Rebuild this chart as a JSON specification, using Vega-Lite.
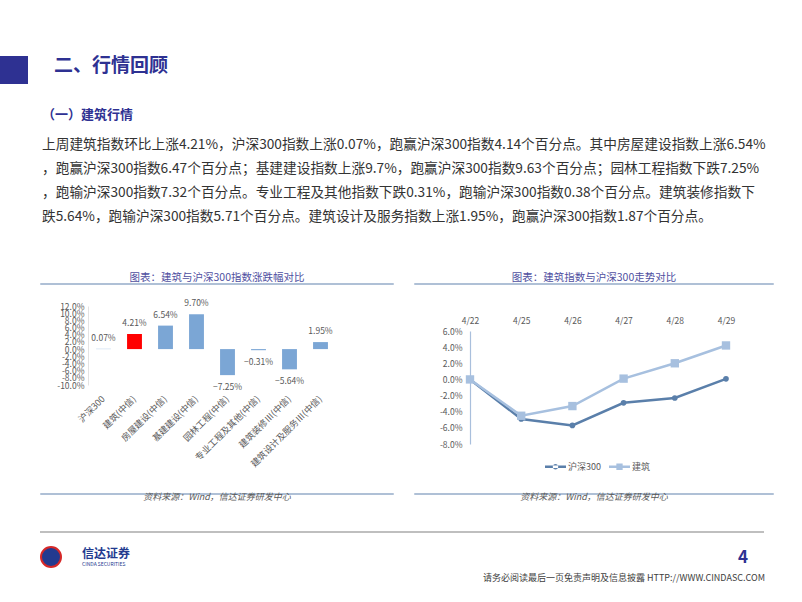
{
  "$schema": "https://vega.github.io/schema/vega-lite/v6.json",
  "padding": {"left": 0, "top": 50, "right": 0, "bottom": 0},
  "background": "white",
  "config": {
    "view": {"stroke": null},
    "font": "Noto Sans CJK SC",
    "axis": {"labelFont": "Noto Sans CJK SC", "labelOverlap": false},
    "legend": {"labelFont": "Noto Sans CJK SC", "layout": {"bottom": {"anchor": "middle"}}}
  },
  "spacing": 0,
  "resolve": {"scale": {"color": "independent"}, "legend": {"color": "independent"}},
  "vconcat": [
    {
      "spacing": 26,
      "hconcat": [
        {
          "width": 28, "height": 28,
          "view": {"fill": "#2E3192", "stroke": null},
          "data": {"values": [{}]},
          "mark": {"type": "text", "text": ""}
        },
        {
          "width": 700, "height": 0.01,
          "data": {"values": [{}]},
          "mark": {"type": "text", "text": ""},
          "title": {"text": "二、行情回顾", "orient": "bottom", "anchor": "start", "baseline": "top", "offset": -4, "fontSize": 19, "fontWeight": "bold", "color": "#2E3192"}
        }
      ]
    },
    {
      "width": 1, "height": 25, "data": {"values": [{}]}, "mark": {"type": "text", "text": ""}
    },
    {
      "width": 760, "height": 0.01,
      "data": {"values": [{}]},
      "mark": {"type": "text", "text": ""},
      "title": {
        "text": "\u00a0（一）建筑行情",
        "subtitle": [
          "上周建筑指数环比上涨4.21%，沪深300指数上涨0.07%，跑赢沪深300指数4.14个百分点。其中房屋建设指数上涨6.54%",
          "，跑赢沪深300指数6.47个百分点；基建建设指数上涨9.7%，跑赢沪深300指数9.63个百分点；园林工程指数下跌7.25%",
          "，跑输沪深300指数7.32个百分点。专业工程及其他指数下跌0.31%，跑输沪深300指数0.38个百分点。建筑装修指数下",
          "跌5.64%，跑输沪深300指数5.71个百分点。建筑设计及服务指数上涨1.95%，跑赢沪深300指数1.87个百分点。"
        ],
        "anchor": "start", "dx": 42, "offset": 0, "baseline": "top",
        "fontSize": 13, "fontWeight": "bold", "color": "#2E3192",
        "subtitleFontSize": 13.7, "subtitleColor": "#333333", "subtitleLineHeight": 24, "subtitlePadding": 16
      }
    },
    {
      "width": 1, "height": 35, "data": {"values": [{}]}, "mark": {"type": "text", "text": ""}
    },
    {
      "spacing": 20,
      "hconcat": [
        {"width": 20, "height": 0.01, "data": {"values": [{}]}, "mark": {"type": "text", "text": "", "fontSize": 0}},
        {
          "width": 352, "height": 0.01,
          "view": {"stroke": "#95ABC8", "strokeWidth": 1.5},
          "data": {"values": [{}]}, "mark": {"type": "text", "text": "", "fontSize": 0},
          "title": {"text": "图表：建筑与沪深300指数涨跌幅对比", "anchor": "middle", "offset": 1, "fontSize": 10.5, "fontWeight": "normal", "color": "#4F4F9F"}
        },
        {
          "width": 358, "height": 0.01,
          "view": {"stroke": "#95ABC8", "strokeWidth": 1.5},
          "data": {"values": [{}]}, "mark": {"type": "text", "text": "", "fontSize": 0},
          "title": {"text": "图表：建筑指数与沪深300走势对比", "anchor": "middle", "offset": 1, "fontSize": 10.5, "fontWeight": "normal", "color": "#4F4F9F"}
        }
      ]
    },
    {
      "spacing": 20,
      "resolve": {"scale": {"color": "independent"}, "legend": {"color": "independent"}},
      "hconcat": [
        {"width": 20, "height": 0.01, "data": {"values": [{}]}, "mark": {"type": "text", "text": "", "fontSize": 0}},
        {
          "spacing": 0,
          "vconcat": [
            {"width": 1, "height": 14, "data": {"values": [{}]}, "mark": {"type": "text", "text": "", "fontSize": 0}},
            {
              "width": 248, "height": 79,
              "data": {"values": [
                {"name": "沪深300", "value": 0.0007},
                {"name": "建筑(中信)", "value": 0.0421},
                {"name": "房屋建设(中信)", "value": 0.0654},
                {"name": "基建建设(中信)", "value": 0.097},
                {"name": "园林工程(中信)", "value": -0.0725},
                {"name": "专业工程及其他(中信)", "value": -0.0031},
                {"name": "建筑装修Ⅲ(中信)", "value": -0.0564},
                {"name": "建筑设计及服务Ⅲ(中信)", "value": 0.0195}
              ]},
              "encoding": {
                "x": {"field": "name", "type": "nominal", "sort": null,
                  "scale": {"paddingInner": 0.52, "paddingOuter": 0.26},
                  "axis": {"title": null, "labelAngle": -45, "labelAlign": "right", "labelBaseline": "middle", "labelPadding": 12, "ticks": false, "domain": false, "labelFontSize": 9, "labelColor": "#595959"}},
                "y": {"field": "value", "type": "quantitative",
                  "scale": {"domain": [-0.1, 0.12], "nice": false},
                  "axis": {"title": null, "values": [-0.1, -0.08, -0.06, -0.04, -0.02, 0, 0.02, 0.04, 0.06, 0.08, 0.1, 0.12],
                    "labelExpr": "(datum.value < -0.0001 ? '-' : '') + format(abs(datum.value), '.1%')",
                    "labelOverlap": false, "labelFlush": false, "labelBound": false, "labelFontSize": 8.5, "labelColor": "#595959", "labelLineHeight": 8,
                    "ticks": false, "grid": false, "domain": true, "domainColor": "#E3E3E3", "labelPadding": 4, "minExtent": 48}}
              },
              "layer": [
                {
                  "mark": {"type": "rule", "color": "#C9D6E6", "strokeWidth": 1},
                  "encoding": {"y": {"datum": 0, "type": "quantitative"}}
                },
                {
                  "mark": {"type": "bar"},
                  "encoding": {
                    "color": {"condition": {"test": "datum.name === '建筑(中信)'", "value": "#FF0000"}, "value": "#7BA6D5"}
                  }
                },
                {
                  "transform": [{"filter": "datum.value >= 0"}],
                  "mark": {"type": "text", "dy": -11, "fontSize": 8.5, "color": "#595959"},
                  "encoding": {"text": {"field": "value", "type": "quantitative", "format": ".2%"}}
                },
                {
                  "transform": [{"filter": "datum.value < 0"}],
                  "mark": {"type": "text", "dy": 12, "fontSize": 8.5, "color": "#595959"},
                  "encoding": {"text": {"field": "value", "type": "quantitative", "format": ".2%"}}
                }
              ]
            }
          ]
        },
        {"width": 36, "height": 0.01, "data": {"values": [{}]}, "mark": {"type": "text", "text": "", "fontSize": 0}},
        {
          "spacing": 0,
          "resolve": {"scale": {"color": "independent"}, "legend": {"color": "independent"}},
          "vconcat": [
            {"width": 1, "height": 14, "data": {"values": [{}]}, "mark": {"type": "text", "text": "", "fontSize": 0}},
            {
              "width": 256, "height": 113,
              "data": {"values": [
                {"date": "4/22", "series": "沪深300", "value": 0},
                {"date": "4/25", "series": "沪深300", "value": -4.9},
                {"date": "4/26", "series": "沪深300", "value": -5.7},
                {"date": "4/27", "series": "沪深300", "value": -2.9},
                {"date": "4/28", "series": "沪深300", "value": -2.3},
                {"date": "4/29", "series": "沪深300", "value": 0.07},
                {"date": "4/22", "series": "建筑", "value": 0},
                {"date": "4/25", "series": "建筑", "value": -4.5},
                {"date": "4/26", "series": "建筑", "value": -3.3},
                {"date": "4/27", "series": "建筑", "value": 0.1},
                {"date": "4/28", "series": "建筑", "value": 2.0},
                {"date": "4/29", "series": "建筑", "value": 4.21}
              ]},
              "encoding": {
                "x": {"field": "date", "type": "ordinal", "sort": null,
                  "scale": {"type": "point", "padding": 0},
                  "axis": {"orient": "top", "title": null, "labelAngle": 0, "ticks": false, "domain": false, "labelPadding": 6, "minExtent": 32, "labelFontSize": 8.5, "labelColor": "#595959"}},
                "y": {"field": "value", "type": "quantitative",
                  "scale": {"domain": [-8, 6], "nice": false},
                  "axis": {"title": null, "values": [-8, -6, -4, -2, 0, 2, 4, 6],
                    "labelExpr": "(datum.value < 0 ? '-' : '') + format(abs(datum.value), '.1f') + '%'",
                    "labelOverlap": false, "labelFlush": false, "labelFontSize": 8.5, "labelColor": "#595959",
                    "ticks": false, "grid": false, "domain": true, "domainColor": "#A9BFDC", "domainWidth": 1.2, "labelPadding": 8, "minExtent": 58}}
              },
              "layer": [
                {
                  "mark": {"type": "rule", "color": "#E0E0E0", "strokeWidth": 1},
                  "encoding": {"y": {"datum": 0, "type": "quantitative"}}
                },
                {
                  "mark": {"type": "line", "strokeWidth": 2.5},
                  "encoding": {
                    "color": {"field": "series", "type": "nominal",
                      "scale": {"domain": ["沪深300", "建筑"], "range": ["#5A7FAA", "#A7C0DF"]},
                      "legend": {"title": null, "orient": "bottom", "direction": "horizontal", "offset": 12,
                        "labelFontSize": 9, "labelColor": "#595959", "symbolSize": 441, "labelOffset": 2, "columnPadding": 8,
                        "encode": {"symbols": {"update": {
                          "shape": {"signal": "datum.value === '沪深300' ? 'M-1,-0.12 L1,-0.12 L1,0.12 L-1,0.12 Z M-0.26,0 A0.26,0.26 0 1,0 0.26,0 A0.26,0.26 0 1,0 -0.26,0 Z' : 'M-1,-0.12 L1,-0.12 L1,0.12 L-1,0.12 Z M-0.3,-0.3 L0.3,-0.3 L0.3,0.3 L-0.3,0.3 Z'"},
                          "fill": {"signal": "datum.value === '沪深300' ? '#5A7FAA' : '#A7C0DF'"},
                          "fillOpacity": {"value": 1},
                          "stroke": {"value": "transparent"},
                          "strokeWidth": {"value": 0}
                        }}}}}
                  }
                },
                {
                  "transform": [{"filter": "datum.series === '沪深300'"}],
                  "mark": {"type": "circle", "size": 32, "color": "#5A7FAA", "opacity": 1}
                },
                {
                  "transform": [{"filter": "datum.series === '建筑'"}],
                  "mark": {"type": "square", "size": 70, "color": "#A7C0DF", "opacity": 1}
                }
              ]
            }
          ]
        }
      ]
    },
    {
      "width": 1, "height": 20, "data": {"values": [{}]}, "mark": {"type": "text", "text": "", "fontSize": 0}
    },
    {
      "spacing": 20,
      "hconcat": [
        {"width": 20, "height": 0.01, "data": {"values": [{}]}, "mark": {"type": "text", "text": "", "fontSize": 0}},
        {
          "width": 352, "height": 0.01,
          "view": {"stroke": "#95ABC8", "strokeWidth": 1.5},
          "data": {"values": [{}]}, "mark": {"type": "text", "text": "", "fontSize": 0},
          "title": {"text": "资料来源：Wind，信达证券研发中心", "orient": "bottom", "anchor": "middle", "offset": -1, "fontSize": 9, "fontStyle": "italic", "fontWeight": "normal", "color": "#595959"}
        },
        {
          "width": 358, "height": 0.01,
          "view": {"stroke": "#95ABC8", "strokeWidth": 1.5},
          "data": {"values": [{}]}, "mark": {"type": "text", "text": "", "fontSize": 0},
          "title": {"text": "资料来源：Wind，信达证券研发中心", "orient": "bottom", "anchor": "middle", "offset": -1, "fontSize": 9, "fontStyle": "italic", "fontWeight": "normal", "color": "#595959"}
        }
      ]
    },
    {
      "width": 1, "height": 28, "data": {"values": [{}]}, "mark": {"type": "text", "text": "", "fontSize": 0}
    },
    {
      "spacing": 20,
      "hconcat": [
        {"width": 20, "height": 0.01, "data": {"values": [{}]}, "mark": {"type": "text", "text": "", "fontSize": 0}},
        {
          "width": 722, "height": 0.01,
          "view": {"stroke": "#BFBFBF", "strokeWidth": 2},
          "data": {"values": [{}]}, "mark": {"type": "text", "text": "", "fontSize": 0}
        }
      ]
    },
    {
      "width": 1, "height": 12, "data": {"values": [{}]}, "mark": {"type": "text", "text": "", "fontSize": 0}
    },
    {
      "spacing": 20,
      "hconcat": [
        {"width": 20, "height": 0.01, "data": {"values": [{}]}, "mark": {"type": "text", "text": "", "fontSize": 0}},
        {
          "width": 20, "height": 20,
          "view": {"fill": "#233A8F", "stroke": "#D62828", "strokeWidth": 2, "cornerRadius": 10},
          "data": {"values": [{}]}, "mark": {"type": "text", "text": "", "fontSize": 0}
        },
        {
          "width": 60, "height": 0.01,
          "data": {"values": [{}]}, "mark": {"type": "text", "text": "", "fontSize": 0},
          "title": {"text": "信达证券", "subtitle": "CINDA SECURITIES", "orient": "bottom", "anchor": "start", "baseline": "top", "offset": 2, "dx": -12, "fontSize": 12, "fontWeight": "bold", "color": "#233A8F", "subtitleFontSize": 5, "subtitleColor": "#233A8F", "subtitlePadding": 1}
        },
        {
          "spacing": 0,
          "vconcat": [
            {
              "width": 574, "height": 0.01,
              "data": {"values": [{}]}, "mark": {"type": "text", "text": "", "fontSize": 0},
              "title": {"text": "4", "orient": "bottom", "anchor": "end", "offset": 3, "baseline": "top", "fontSize": 17, "fontWeight": "bold", "color": "#2E3192"}
            },
            {
              "width": 591, "height": 0.01,
              "data": {"values": [{}]}, "mark": {"type": "text", "text": "", "fontSize": 0},
              "title": {"text": "请务必阅读最后一页免责声明及信息披露 HTTP://WWW.CINDASC.COM", "orient": "bottom", "anchor": "end", "offset": 7, "baseline": "top", "fontSize": 9, "fontWeight": "normal", "color": "#404040"}
            }
          ]
        }
      ]
    }
  ]
}
